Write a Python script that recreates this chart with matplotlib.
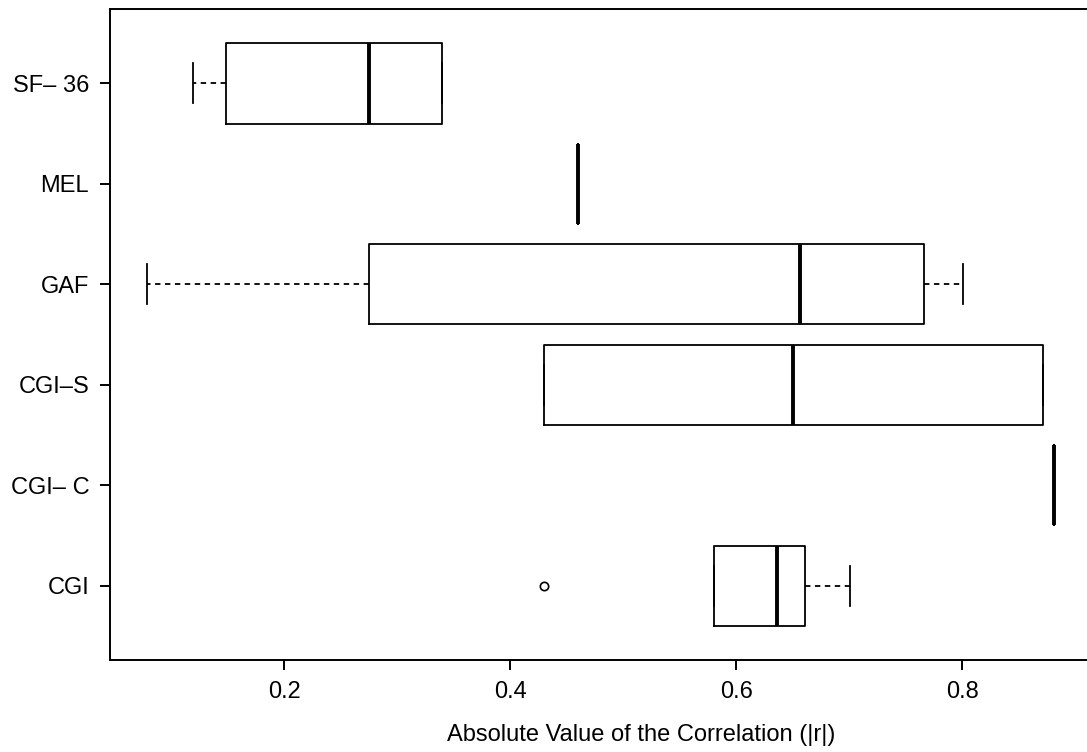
import matplotlib
matplotlib.use("Agg")
import matplotlib.pyplot as plt

plt.rcParams['font.family'] = ['Liberation Sans', 'DejaVu Sans']

# measures, bottom to top
labels = ['CGI', 'CGI\u2013 C', 'CGI\u2013S', 'GAF', 'MEL', 'SF\u2013 36']
whislo = [0.580, 0.881, 0.430, 0.079, 0.460, 0.119]
q1 = [0.580, 0.881, 0.430, 0.275, 0.460, 0.149]
med = [0.636, 0.881, 0.650, 0.656, 0.460, 0.275]
q3 = [0.661, 0.881, 0.871, 0.766, 0.460, 0.340]
whishi = [0.701, 0.881, 0.871, 0.801, 0.460, 0.340]
fliers = [[0.430], [], [], [], [], []]

stats = []
for i in range(len(labels)):
    stats.append({'label': labels[i], 'whislo': whislo[i], 'q1': q1[i], 'med': med[i],
                  'q3': q3[i], 'whishi': whishi[i], 'fliers': fliers[i]})

fig = plt.figure(figsize=(10.87, 7.52), dpi=100)
ax = fig.add_axes([0.1012, 0.1223, 0.9016, 0.8657])

ax.bxp(stats, positions=range(1, 7), widths=0.8, capwidths=0.4,
       orientation='horizontal', showfliers=True,
       boxprops=dict(color='black', linewidth=1.3),
       whiskerprops=dict(color='black', linewidth=1.3, linestyle=(0, (3, 2.5))),
       capprops=dict(color='black', linewidth=1.3),
       medianprops=dict(color='black', linewidth=2.8, solid_capstyle='butt'),
       flierprops=dict(marker='o', markerfacecolor='none', markeredgecolor='black',
                       markersize=6, markeredgewidth=1.2))

ax.set_xlim(0.046, 0.913)
ax.set_ylim(0.26, 6.74)
ax.set_xticks([0.2, 0.4, 0.6, 0.8])
ax.set_xticklabels(['0.2', '0.4', '0.6', '0.8'])
ax.set_yticks(range(1, 7))
ax.set_yticklabels(labels)

for s in ax.spines.values():
    s.set_linewidth(1.4)
ax.tick_params(axis='both', length=7, width=1.4, labelsize=17, pad=8)

ax.set_xlabel('Absolute Value of the Correlation (|r|)', fontsize=17)
ax.xaxis.set_label_coords((641 - 110) / 980, -0.098)

fig.savefig('out.png', dpi=100)
